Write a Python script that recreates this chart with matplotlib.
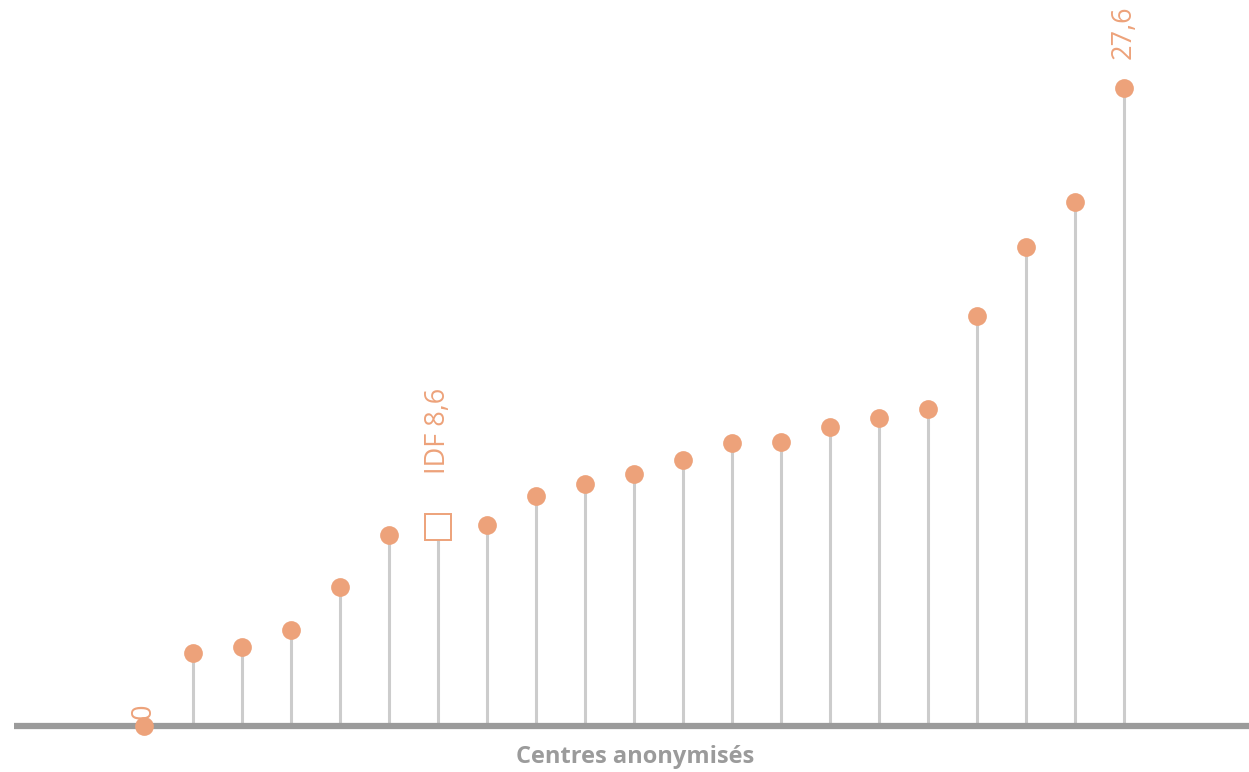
import numpy as np
import matplotlib.pyplot as plt

# valeurs par centre (anonymisés), triées
centres = list(range(21))
valeurs = [0, 3.16, 3.42, 4.15, 6.01, 8.26, 8.6, 8.69, 9.95, 10.47, 10.9,
           11.5, 12.24, 12.28, 12.93, 13.32, 13.71, 17.73, 20.72, 22.66, 27.6]
idf_index = 6
etiquettes = {0: "0", 6: "IDF 8,6", 20: "27,6"}

orange = "#EDA27A"
gris_tige = "#CCCCCC"
gris_axe = "#9B9B9B"

plt.rcParams['font.family'] = ['Open Sans', 'DejaVu Sans']

fig = plt.figure(figsize=(12.49, 7.72), dpi=100)
ax = fig.add_axes([0, 0, 1, 1])
ax.set_xlim(-144 / 49, (1249 - 144) / 49)
ax.set_ylim(-46 / 23.12, 726 / 23.12)
ax.axis('off')

x = np.array(centres)
y = np.array(valeurs)

# tiges
ax.vlines(x, 0, y, color=gris_tige, lw=2.2, zorder=1)
# axe horizontal
ax.plot([(14 - 144) / 49, 23], [0, 0], color=gris_axe, lw=4.5,
        solid_capstyle='butt', zorder=2)

autres = x != idf_index
ax.plot(x[autres], y[autres], 'o', color=orange, ms=13.5, mec='none', zorder=3)
ax.plot([idf_index], [valeurs[idf_index]], 's', ms=19, mfc='white',
        mec=orange, mew=1.4, zorder=3)

# étiquettes verticales
decalages = {0: 0.3, 6: 2.3, 20: 1.25}
for i, txt in etiquettes.items():
    ax.text(i, valeurs[i] + decalages[i], txt, rotation=90, color=orange,
            fontsize=19.5, ha='center', va='bottom', zorder=4)

fig.text(635 / 1249, 1 - 757 / 772, "Centres anonymisés", color=gris_axe,
         fontsize=17, fontweight='bold', ha='center', va='center')

fig.savefig("out.png", dpi=100)
